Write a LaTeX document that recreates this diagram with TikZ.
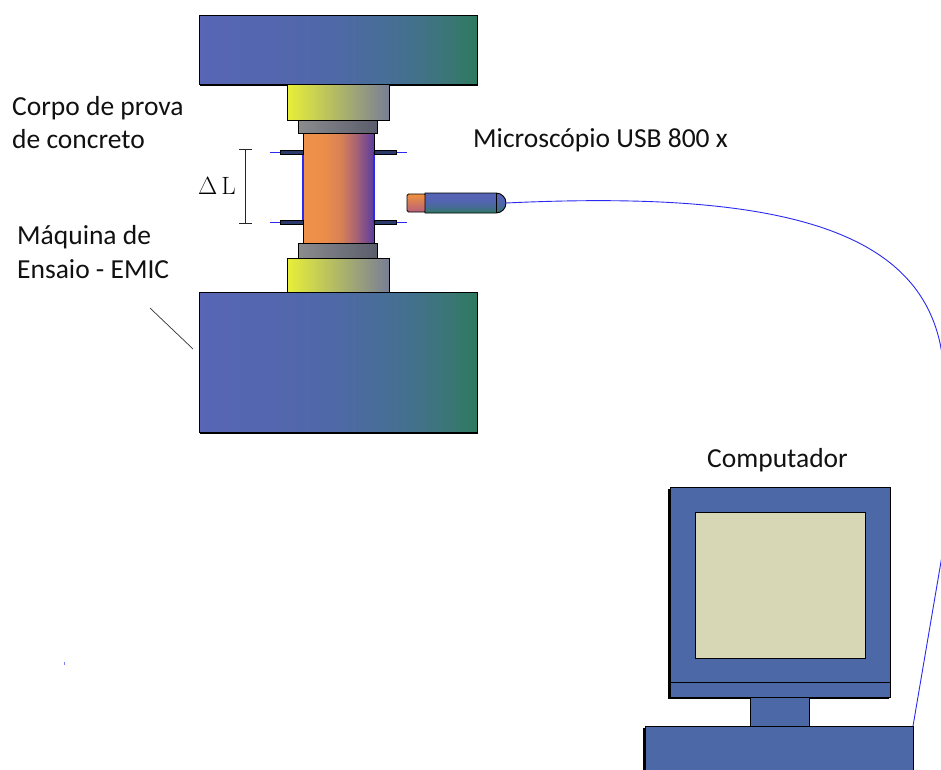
\documentclass[tikz,border=0pt]{standalone}
\usepackage{fontspec}
\setmainfont{Carlito}
\newfontfamily\lmfont{Latin Modern Roman}
% blue-to-green fade of the machine slabs
\pgfdeclarehorizontalshading{slabfade}{100bp}{%
  color(0bp)=(rgb,255:red,87;green,102;blue,181);
  color(25bp)=(rgb,255:red,87;green,102;blue,181);
  color(37.5bp)=(rgb,255:red,84;green,102;blue,175);
  color(50bp)=(rgb,255:red,78;green,105;blue,166);
  color(62.5bp)=(rgb,255:red,68;green,112;blue,143);
  color(70bp)=(rgb,255:red,58;green,118;blue,118);
  color(75bp)=(rgb,255:red,45;green,122;blue,94);
  color(100bp)=(rgb,255:red,45;green,122;blue,94)}
% orange-to-violet fade of the concrete specimen
\pgfdeclarehorizontalshading{specfade}{100bp}{%
  color(0bp)=(rgb,255:red,240;green,144;blue,74);
  color(25bp)=(rgb,255:red,240;green,144;blue,74);
  color(40bp)=(rgb,255:red,236;green,142;blue,74);
  color(52bp)=(rgb,255:red,214;green,128;blue,86);
  color(62bp)=(rgb,255:red,170;green,100;blue,115);
  color(75bp)=(rgb,255:red,90;green,60;blue,160);
  color(100bp)=(rgb,255:red,90;green,60;blue,160)}
% blue body of the microscope, greener towards its underside
\pgfdeclareverticalshading{scopefade}{100bp}{%
  color(0bp)=(rgb,255:red,46;green,122;blue,94);
  color(25bp)=(rgb,255:red,46;green,122;blue,94);
  color(40bp)=(rgb,255:red,70;green,108;blue,150);
  color(55bp)=(rgb,255:red,82;green,100;blue,176);
  color(75bp)=(rgb,255:red,86;green,100;blue,180);
  color(100bp)=(rgb,255:red,86;green,100;blue,180)}
\begin{document}
\begin{tikzpicture}[x=1pt,y=-1pt,
  outline/.style={draw=black,line width=0.9pt},
  slab/.style={outline,shading=slabfade,shading angle=0},
  pad/.style={outline,left color=padL,middle color=padM,right color=padR},
  plate/.style={outline,left color=plateL,right color=plateR},
  specimen/.style={outline,shading=specfade,shading angle=0},
  gaugeclip/.style={draw=black,fill=clipF,line width=0.6pt},
  wire/.style={draw=wireB,line width=0.9pt},
  pcpart/.style={outline,fill=pcBlue},
  shadow/.style={fill=black},
  lbl/.style={font=\fontsize{27.5}{32}\selectfont,anchor=base west,inner sep=0pt,text=textC}
]
\definecolor{padL}{HTML}{E8F038}
\definecolor{padM}{HTML}{DCE04E}
\definecolor{padR}{HTML}{787E96}
\definecolor{plateL}{HTML}{8C8C8E}
\definecolor{plateR}{HTML}{5A5D6C}
\definecolor{clipF}{HTML}{2A3A6A}
\definecolor{wireB}{HTML}{2A2AF0}
\definecolor{pcBlue}{HTML}{4C68A6}
\definecolor{screenC}{HTML}{D8D7B5}
\definecolor{tipTop}{HTML}{F0923E}
\definecolor{tipBot}{HTML}{B8607A}
\definecolor{textC}{HTML}{111111}

% canvas
\path[use as bounding box,fill=white] (0,0) rectangle (941,769);
\clip (0,0) rectangle (941,769);

% --- testing machine: upper and lower slabs ---
\fill[shadow] (200,17) rectangle (478,86);
\path[slab] (199,15) rectangle (477,84);
\fill[shadow] (200,294) rectangle (478,434);
\path[slab] (199,292) rectangle (477,432);

% --- loading pads and plates ---
\path[pad] (287,84) rectangle (389,120);
\path[plate] (298,120) rectangle (377,133);
\path[pad] (287,258) rectangle (389,292);
\path[plate] (298,243) rectangle (377,258);

% --- concrete specimen ---
\path[specimen] (303,133) rectangle (374,243);
\draw[wire,line width=1.4pt] (303,152) -- (303,222);
\draw[wire,line width=1.4pt] (374,152) -- (374,222);

% --- gauge clips ---
\foreach \yy in {152,222}{
  \draw[wire,line width=0.7pt] (270,\yy) -- (303,\yy);
  \draw[wire,line width=0.7pt] (374,\yy) -- (407,\yy);
  \path[gaugeclip] (280,\yy-2.2) rectangle (303,\yy+2.2);
  \path[gaugeclip] (374,\yy-2.2) rectangle (396,\yy+2.2);
}

% --- gauge length bracket ---
\draw[line width=1pt,black!85] (239,149) -- (252,149)
  (245,149) -- (245,223) (239,223) -- (252,223);
\node[anchor=base,inner sep=0pt,font=\lmfont\fontsize{25}{28}\selectfont,text=black]
  (dl) at (217,194) {$\Delta$\,L};

% --- USB microscope ---
\path[outline,top color=tipTop,bottom color=tipBot,rounded corners=1.5pt]
  (407,194) rectangle (426,212);
\path[outline,shading=scopefade,shading angle=0]
  (425,193) -- (496,193) arc[start angle=-90,end angle=90,radius=10] -- (425,213) -- cycle;
\draw[line width=0.8pt] (496,193) -- (496,213);
\coordinate (usb) at (506,203);

% --- computer ---
\fill[shadow] (668,489) rectangle (889,699);
\path[pcpart] (670,487) rectangle (890,697);
\draw[line width=0.9pt] (670,682) -- (890,682);
\path[outline,fill=screenC] (695,512) rectangle (865,658);
\path[pcpart] (750,697) rectangle (809,726);
\fill[shadow] (643,728) rectangle (912,775);
\path[pcpart] (645,726) rectangle (913,775);
\coordinate (port) at (913,726);

% --- cable from microscope to computer ---
\draw[wire] (usb) .. controls (780,190) and (915,230) .. (940,343)
  -- (960,450) -- (port);

% --- labels ---
\node[lbl] (corpo1) at (12,115) {Corpo de prova};
\node[lbl] (corpo2) at (12,148) {de concreto};
\node[lbl] (maq1) at (17,244) {Máquina de};
\node[lbl] (maq2) at (17,278) {Ensaio - EMIC};
\node[lbl] (micro) at (473,147) {Microscópio USB 800 x};
\node[lbl] (pc) at (707,467) {Computador};
\coordinate (lead) at (193,349);
\draw[line width=0.7pt,black!80] (150,308) -- (lead);

% stray mark
\fill[wireB!60] (63.5,661.5) rectangle (65,664.5);
\end{tikzpicture}
\end{document}
